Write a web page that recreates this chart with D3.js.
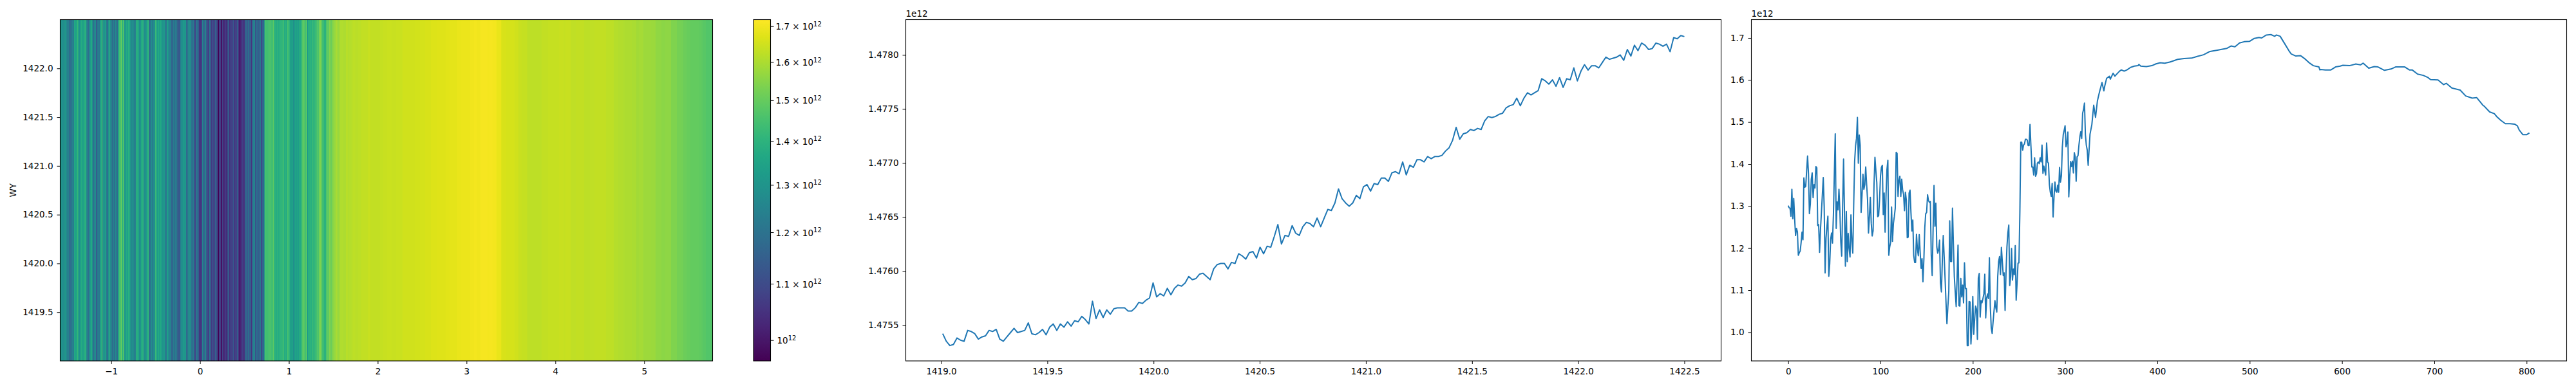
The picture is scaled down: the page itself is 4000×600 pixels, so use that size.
<!DOCTYPE html>
<meta charset="utf-8">
<style>

body {
  margin: 0;
  background: white;
}

svg {
  display: block;
}

text {
  font: 13.5px "DejaVu Sans", sans-serif;
  fill: #000;
}

.frame {
  fill: none;
  stroke: #000;
  stroke-width: 1.1px;
}

.axis path {
  display: none;
}

.axis line {
  stroke: #000;
  stroke-width: 1px;
}

.trace {
  fill: none;
  stroke: #1f77b4;
  stroke-width: 2px;
  stroke-linejoin: round;
}

.cells rect {
  shape-rendering: crispEdges;
}

</style>
<svg></svg>
<script src="https://d3js.org/d3.v7.min.js"></script>
<script>

// All power values are in units of 1e12.

// One value per index, 0 to 325.
var densePower = [
  1.301, 1.296, 1.295, 1.276, 1.340, 1.270, 1.318, 1.270, 1.230, 1.247,
  1.239, 1.183, 1.189, 1.193, 1.213, 1.238, 1.220, 1.367, 1.345, 1.347,
  1.384, 1.419, 1.377, 1.282, 1.305, 1.364, 1.379, 1.320, 1.351, 1.343,
  1.394, 1.391, 1.254, 1.256, 1.190, 1.244, 1.285, 1.326, 1.368, 1.300,
  1.141, 1.224, 1.252, 1.276, 1.133, 1.163, 1.221, 1.236, 1.212, 1.280,
  1.377, 1.472, 1.247, 1.310, 1.291, 1.340, 1.290, 1.214, 1.181, 1.300,
  1.412, 1.285, 1.157, 1.287, 1.168, 1.235, 1.198, 1.179, 1.279, 1.216,
  1.188, 1.305, 1.407, 1.443, 1.461, 1.511, 1.402, 1.469, 1.445, 1.285,
  1.326, 1.376, 1.340, 1.351, 1.393, 1.351, 1.315, 1.236, 1.275, 1.321,
  1.259, 1.229, 1.241, 1.351, 1.416, 1.384, 1.356, 1.275, 1.277, 1.315,
  1.371, 1.392, 1.397, 1.280, 1.331, 1.238, 1.326, 1.387, 1.409, 1.183,
  1.203, 1.214, 1.298, 1.216, 1.259, 1.275, 1.295, 1.428, 1.425, 1.323,
  1.361, 1.371, 1.323, 1.364, 1.338, 1.328, 1.289, 1.333, 1.315, 1.225,
  1.226, 1.331, 1.338, 1.285, 1.241, 1.267, 1.183, 1.166, 1.166, 1.233,
  1.198, 1.182, 1.232, 1.190, 1.152, 1.175, 1.120, 1.173, 1.249, 1.282,
  1.285, 1.327, 1.313, 1.309, 1.311, 1.183, 1.135, 1.244, 1.349, 1.252,
  1.307, 1.203, 1.188, 1.196, 1.219, 1.117, 1.096, 1.170, 1.230, 1.180,
  1.127, 1.070, 1.020, 1.060, 1.096, 1.265, 1.168, 1.168, 1.295, 1.210,
  1.132, 1.095, 1.061, 1.130, 1.207, 1.063, 1.062, 1.128, 1.084, 1.112,
  1.070, 1.165, 1.104, 1.104, 0.968, 0.968, 1.073, 1.072, 0.972, 1.015,
  1.085, 0.995, 1.030, 1.062, 1.055, 0.983, 1.129, 1.140, 1.036, 1.075,
  1.070, 1.080, 1.091, 1.138, 1.034, 1.081, 1.091, 1.080, 1.177, 1.061,
  1.010, 0.997, 1.025, 1.050, 1.075, 1.058, 1.048, 1.132, 1.168, 1.180,
  1.137, 1.202, 1.168, 1.135, 1.141, 1.052, 1.142, 1.203, 1.236, 1.255,
  1.111, 1.132, 1.199, 1.124, 1.150, 1.137, 1.206, 1.076, 1.117, 1.164,
  1.165, 1.285, 1.452, 1.452, 1.433, 1.445, 1.448, 1.459, 1.459, 1.457,
  1.444, 1.444, 1.494, 1.442, 1.393, 1.393, 1.374, 1.415, 1.371, 1.377,
  1.402, 1.405, 1.401, 1.415, 1.405, 1.445, 1.378, 1.395, 1.384, 1.374,
  1.450, 1.405, 1.402, 1.351, 1.333, 1.323, 1.354, 1.274, 1.321, 1.357,
  1.336, 1.333, 1.350, 1.333, 1.392, 1.357, 1.372, 1.440, 1.470, 1.480,
  1.491, 1.441, 1.450, 1.476, 1.322, 1.370, 1.406, 1.394, 1.407, 1.379,
  1.427, 1.417, 1.359, 1.417, 1.420, 1.445, 1.465, 1.477, 1.461, 1.521,
  1.530, 1.545, 1.470, 1.445, 1.433, 1.397
];

// The smoother tail, read at its turning points.
var tailIndex = [
  327, 329, 331, 333, 335, 337, 339, 340, 342, 343,
  345, 348, 349, 352, 354, 356, 359, 361, 364, 367,
  371, 375, 379, 380, 382, 388, 394, 398, 403, 408,
  414, 422, 429, 437, 443, 450, 457, 465, 475, 480,
  484, 489, 494, 500, 505, 510, 513, 518, 523, 527,
  529, 533, 538, 543, 545, 550, 555, 560, 565, 569,
  575, 576, 577, 582, 588, 593, 598, 601, 608, 615,
  620, 623, 629, 635, 639, 646, 653, 658, 668, 673,
  676, 682, 688, 693, 696, 704, 710, 713, 719, 728,
  734, 741, 746, 753, 754, 760, 765, 768, 772, 777,
  782, 787, 790, 792, 796, 800, 803
];
var tailPower = [
  1.471, 1.494, 1.540, 1.511, 1.550, 1.569, 1.586, 1.594, 1.574, 1.586,
  1.604, 1.609, 1.602, 1.616, 1.609, 1.614, 1.621, 1.624, 1.621, 1.624,
  1.630, 1.633, 1.634, 1.637, 1.633, 1.632, 1.634, 1.638, 1.641, 1.640,
  1.643, 1.649, 1.651, 1.652, 1.656, 1.660, 1.668, 1.671, 1.675, 1.681,
  1.679, 1.688, 1.691, 1.692, 1.699, 1.701, 1.700, 1.707, 1.708, 1.704,
  1.707, 1.704, 1.686, 1.668, 1.662, 1.657, 1.658, 1.650, 1.640, 1.634,
  1.631, 1.624, 1.625, 1.624, 1.624, 1.631, 1.633, 1.635, 1.634, 1.638,
  1.636, 1.640, 1.628, 1.632, 1.631, 1.623, 1.626, 1.631, 1.631, 1.624,
  1.624, 1.614, 1.611, 1.606, 1.601, 1.600, 1.589, 1.592, 1.581, 1.576,
  1.562, 1.557, 1.558, 1.539, 1.538, 1.524, 1.520, 1.512, 1.504, 1.496,
  1.496, 1.495, 1.491, 1.481, 1.470, 1.470, 1.474
];

// Slice along WY, evenly spaced from wyStart to wyEnd.
var wyStart = 1419.0069;
var wyEnd = 1422.5;
var wyPower = [
  1.47542, 1.47535, 1.47531, 1.47532, 1.47538, 1.47536, 1.47535, 1.47545, 1.47544, 1.47542,
  1.47537, 1.47539, 1.47540, 1.47545, 1.47544, 1.47546, 1.47537, 1.47535, 1.47539, 1.47543,
  1.47547, 1.47543, 1.47544, 1.47545, 1.47552, 1.47542, 1.47541, 1.47543, 1.47546, 1.47541,
  1.47548, 1.47551, 1.47545, 1.47551, 1.47548, 1.47553, 1.47549, 1.47554, 1.47553, 1.47558,
  1.47555, 1.47551, 1.47572, 1.47556, 1.47564, 1.47557, 1.47564, 1.47560, 1.47565, 1.47566,
  1.47566, 1.47566, 1.47563, 1.47563, 1.47566, 1.47571, 1.47570, 1.47573, 1.47575, 1.47589,
  1.47576, 1.47579, 1.47577, 1.47584, 1.47578, 1.47584, 1.47587, 1.47586, 1.47589, 1.47595,
  1.47592, 1.47593, 1.47597, 1.47598, 1.47595, 1.47592, 1.47602, 1.47606, 1.47607, 1.47607,
  1.47602, 1.47608, 1.47607, 1.47616, 1.47614, 1.47611, 1.47617, 1.47618, 1.47612, 1.47622,
  1.47616, 1.47623, 1.47622, 1.47632, 1.47643, 1.47625, 1.47633, 1.47632, 1.47642, 1.47635,
  1.47633, 1.47641, 1.47645, 1.47644, 1.47641, 1.47649, 1.47641, 1.47649, 1.47657, 1.47656,
  1.47663, 1.47676, 1.47667, 1.47663, 1.47660, 1.47663, 1.47670, 1.47667, 1.47678, 1.47680,
  1.47674, 1.47681, 1.47680, 1.47686, 1.47686, 1.47683, 1.47691, 1.47692, 1.47690, 1.47701,
  1.47689, 1.47698, 1.47696, 1.47703, 1.47703, 1.47701, 1.47706, 1.47704, 1.47706, 1.47706,
  1.47707, 1.47711, 1.47714, 1.47721, 1.47733, 1.47722, 1.47727, 1.47728, 1.47731, 1.47730,
  1.47732, 1.47731, 1.47739, 1.47743, 1.47742, 1.47743, 1.47745, 1.47746, 1.47751, 1.47753,
  1.47754, 1.47760, 1.47753, 1.47760, 1.47765, 1.47763, 1.47765, 1.47767, 1.47778, 1.47776,
  1.47773, 1.47777, 1.47771, 1.47779, 1.47770, 1.47778, 1.47777, 1.47788, 1.47776, 1.47785,
  1.47791, 1.47786, 1.47790, 1.47790, 1.47788, 1.47793, 1.47798, 1.47796, 1.47797, 1.47798,
  1.47800, 1.47795, 1.47805, 1.47799, 1.47809, 1.47804, 1.47811, 1.47809, 1.47805, 1.47806,
  1.47811, 1.47810, 1.47808, 1.47810, 1.47803, 1.47816, 1.47815, 1.47818, 1.47817
];

var heatXTicks = [-1, 0, 1, 2, 3, 4, 5];
var heatYTicks = [1419.5, 1420, 1420.5, 1421, 1421.5, 1422];
var colorTicks = [1, 1.1, 1.2, 1.3, 1.4, 1.5, 1.6, 1.7];
var wyXTicks = [1419, 1419.5, 1420, 1420.5, 1421, 1421.5, 1422, 1422.5];
var wyYTicks = [1.4755, 1.476, 1.4765, 1.477, 1.4775, 1.478];
var seriesXTicks = [0, 100, 200, 300, 400, 500, 600, 700, 800];
var seriesYTicks = [1, 1.1, 1.2, 1.3, 1.4, 1.5, 1.6, 1.7];

var width = 4000;
var height = 600;
var plotTop = 30.5;
var plotBottom = 561;

var svg = d3.select('svg')
  .attr('width', width)
  .attr('height', height);

var series = densePower.map(function (d, i) { return { index: i, power: d }; })
  .concat(tailIndex.map(function (d, i) { return { index: d, power: tailPower[i] }; }));

var yRange = [plotBottom, plotTop];
var tickSize = 5;
var tickPadding = 6;

var color = d3.scaleSequentialLog(d3.interpolateViridis).domain([0.966, 1.72]);

function panelFrame (x0, x1) {
  svg.append('rect')
    .attr('class', 'frame')
    .attr('x', x0)
    .attr('y', plotTop)
    .attr('width', x1 - x0)
    .attr('height', plotBottom - plotTop);
}

function drawAxes (x, y, xTicks, yTicks, xFormat, yFormat) {
  svg.append('g')
    .attr('class', 'axis')
    .attr('transform', 'translate(0,' + plotBottom + ')')
    .call(d3.axisBottom(x).tickValues(xTicks).tickFormat(xFormat).tickSize(tickSize).tickPadding(tickPadding))
    .call(fontFix);

  svg.append('g')
    .attr('class', 'axis')
    .attr('transform', 'translate(' + x.range()[0] + ',0)')
    .call(d3.axisLeft(y).tickValues(yTicks).tickFormat(yFormat).tickSize(tickSize).tickPadding(tickPadding))
    .call(fontFix);
}

// d3-axis sets a font on the group, drop it so the stylesheet wins
function fontFix (g) {
  g.attr('font-family', null).attr('font-size', null);
}

// Panel 1: heatmap, every column is one index of the series
var heatX = d3.scaleLinear().domain([-1.574, 5.77]).range([93.5, 1106.5]);
var heatY = d3.scaleLinear().domain([1419, 1422.5]).range(yRange);
var indexToHeat = d3.scaleLinear().domain([0, 804]).range(heatX.range());

svg.append('g')
  .attr('class', 'cells')
  .selectAll('rect')
  .data(series)
  .enter().append('rect')
  .attr('x', function (d) { return indexToHeat(d.index); })
  .attr('y', heatY(1422.5))
  .attr('width', function (d, i) {
    var next = i < series.length - 1 ? series[i + 1].index : 804;
    return indexToHeat(next) - indexToHeat(d.index) + 0.5;
  })
  .attr('height', heatY(1419) - heatY(1422.5))
  .attr('fill', function (d) { return color(d.power); });

panelFrame(93.5, 1106.5);
drawAxes(heatX, heatY, heatXTicks, heatYTicks, d3.format('d'), d3.format('.1f'));

svg.append('text')
  .attr('transform', 'translate(25,' + (plotTop + plotBottom) / 2 + ') rotate(-90)')
  .attr('text-anchor', 'middle')
  .text('WY');

// Colorbar on a log scale
var barY = d3.scaleLog().domain(color.domain()).range(yRange);
var barX0 = 1170;
var barX1 = 1196.5;

var gradient = svg.append('defs').append('linearGradient')
  .attr('id', 'viridis')
  .attr('x1', 0).attr('x2', 0)
  .attr('y1', 1).attr('y2', 0);

d3.range(0, 1.001, 0.05).forEach(function (t) {
  gradient.append('stop')
    .attr('offset', t)
    .attr('stop-color', d3.interpolateViridis(t));
});

svg.append('rect')
  .attr('x', barX0)
  .attr('y', plotTop)
  .attr('width', barX1 - barX0)
  .attr('height', plotBottom - plotTop)
  .attr('fill', 'url(#viridis)');

panelFrame(barX0, barX1);

var barTick = svg.append('g')
  .selectAll('g')
  .data(colorTicks)
  .enter().append('g')
  .attr('transform', function (d) { return 'translate(' + barX1 + ',' + barY(d) + ')'; });

barTick.append('line')
  .attr('x2', tickSize)
  .attr('stroke', '#000');

var barLabel = barTick.append('text')
  .attr('x', function (d) { return d === 1 ? 10 : 8; })
  .attr('y', 5);

barLabel.append('tspan')
  .text(function (d) { return d === 1 ? '10' : d3.format('.1f')(d) + ' × 10'; });

barLabel.append('tspan')
  .attr('dy', -5.5)
  .style('font-size', '10px')
  .text('12');

// Panel 2: the slice along WY
var wyX = d3.scaleLinear().domain([1418.833, 1422.673]).range([1406.5, 2672.5]);
var wyY = d3.scaleLinear().domain([1.475168, 1.478327]).range(yRange);
var wyStep = (wyEnd - wyStart) / (wyPower.length - 1);

var wyLine = d3.line()
  .x(function (d, i) { return wyX(wyStart + i * wyStep); })
  .y(function (d) { return wyY(d); });

svg.append('path')
  .attr('class', 'trace')
  .attr('d', wyLine(wyPower));

panelFrame(1406.5, 2672.5);
drawAxes(wyX, wyY, wyXTicks, wyYTicks, d3.format('.1f'), d3.format('.4f'));

// Panel 3: the full series
var seriesX = d3.scaleLinear().domain([-39.9, 843.4]).range([2719.5, 3985.5]);
var seriesY = d3.scaleLinear().domain([0.9317, 1.7436]).range(yRange);

var seriesLine = d3.line()
  .x(function (d) { return seriesX(d.index); })
  .y(function (d) { return seriesY(d.power); });

svg.append('path')
  .attr('class', 'trace')
  .attr('d', seriesLine(series));

panelFrame(2719.5, 3985.5);
drawAxes(seriesX, seriesY, seriesXTicks, seriesYTicks, d3.format('d'), d3.format('.1f'));

// Offset labels above the two line panels
svg.selectAll('.offset')
  .data([wyX.range()[0], seriesX.range()[0]])
  .enter().append('text')
  .attr('class', 'offset')
  .attr('x', function (d) { return d; })
  .attr('y', 26)
  .text('1e12');

</script>
